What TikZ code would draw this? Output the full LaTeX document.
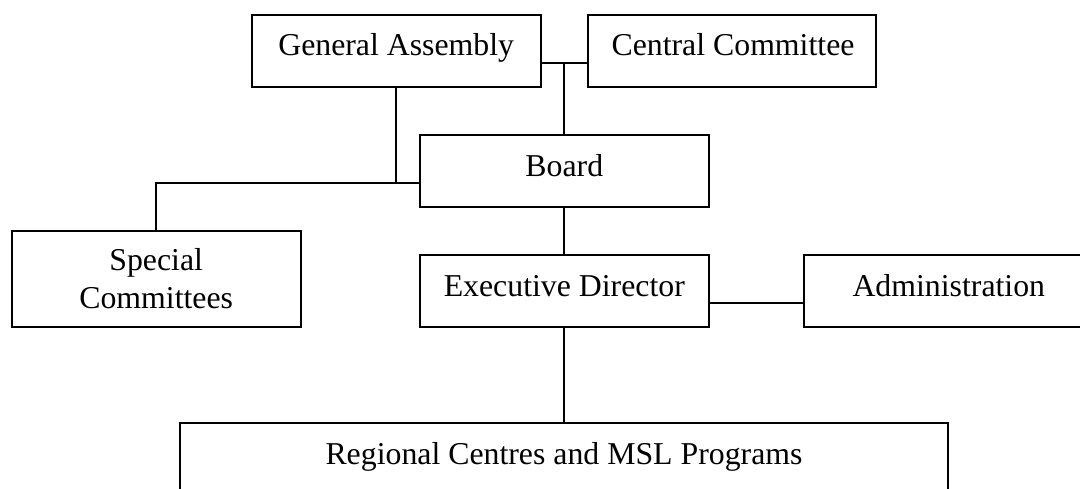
\documentclass[tikz,border=0pt]{standalone}
\usepackage{fontspec}
\setmainfont{Liberation Serif}
\begin{document}
\begin{tikzpicture}[x=1pt,y=-1pt,
  orgbox/.style={draw=black,line width=1.8pt,fill=white,rectangle,inner sep=0pt,outer sep=0pt,anchor=north west},
  lbl/.style={anchor=base,inner sep=0pt,font=\fontsize{31.8}{38}\selectfont},
  link/.style={draw=black,line width=1.8pt}]
\useasboundingbox (0,0) rectangle (1080,488);
\clip (0,0) rectangle (1080,488);

% boxes
\node[orgbox,minimum width=289pt,minimum height=72.6pt] (ga)  at (251.7,14.7) {};
\node[orgbox,minimum width=287.4pt,minimum height=72.6pt] (cc)  at (588.3,14.7) {};
\node[orgbox,minimum width=288.6pt,minimum height=72.3pt] (bd)  at (420,135) {};
\node[orgbox,minimum width=289pt,minimum height=96.3pt] (sc)  at (11.7,231) {};
\node[orgbox,minimum width=288.6pt,minimum height=72.3pt] (ed)  at (420,255) {};
\node[orgbox,minimum width=289pt,minimum height=72.3pt] (adm) at (804.3,255) {};
\node[orgbox,minimum width=768.6pt,minimum height=90pt] (reg) at (179.7,423.3) {};

% labels
\node[lbl] (gat)  at (396.2,55)    {General Assembly};
\node[lbl] (cct)  at (733,55)      {Central Committee};
\node[lbl] (bdt)  at (564.3,176)   {Board};
\node[lbl] (sct1) at (156.2,270)   {Special};
\node[lbl] (sct2) at (156.2,308.3) {Committees};
\node[lbl] (edt)  at (564.3,296.7) {Executive Director};
\node[lbl] (admt) at (948.8,296.7) {Administration};
\node[lbl] (regt) at (564,464)     {Regional Centres and MSL Programs};

% junction points of the connectors
\coordinate (jtop) at (564.3,62.7);
\coordinate (jleft) at (396.2,183.3);
\coordinate (jright) at (756,302.7);

% connectors
\draw[link] (ga.east |- jtop) -- (cc.west |- jtop);
\draw[link] (jtop) -- (jtop |- bd.north);
\draw[link] (ga.south) -- (jleft);
\draw[link] (bd.west |- jleft) -- (jleft -| sc.north) -- (sc.north);
\draw[link] (bd.south) -- (ed.north);
\draw[link] (ed.east |- jright) -- (adm.west |- jright);
\draw[link] (ed.south) -- (ed.south |- reg.north);
\end{tikzpicture}
\end{document}
